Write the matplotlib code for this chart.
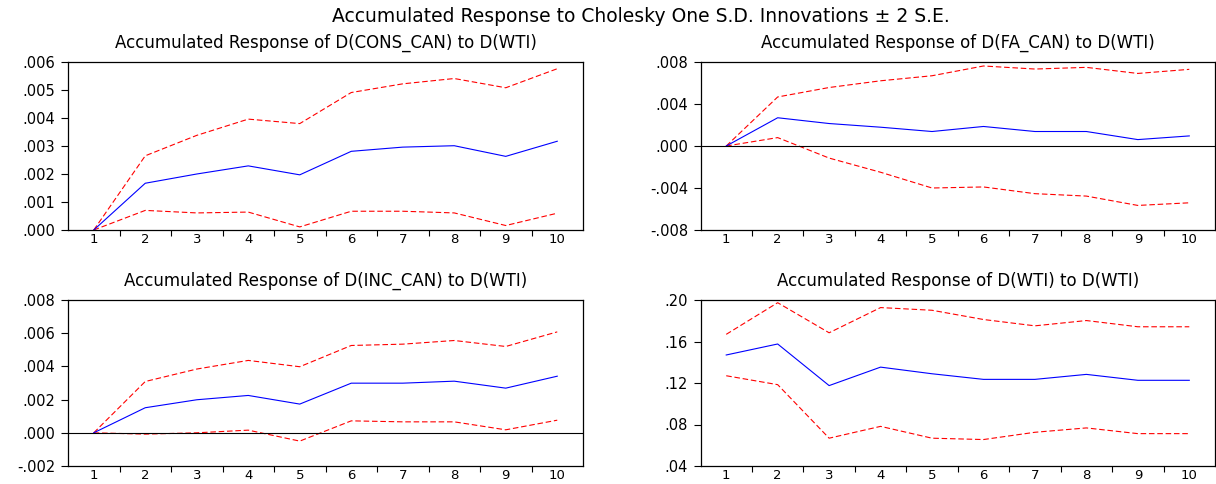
import matplotlib
matplotlib.use("Agg")
import matplotlib.pyplot as plt
from matplotlib.ticker import FixedLocator, FuncFormatter, NullFormatter

periods = [1, 2, 3, 4, 5, 6, 7, 8, 9, 10]

cons_resp = [0, .00167, .00200, .00229, .00197, .00281, .00296, .00301, .00263, .00317]
cons_up = [0, .00265, .00338, .00396, .00380, .00491, .00522, .00541, .00508, .00576]
cons_lo = [0, .00070, .00061, .00064, .00011, .00067, .00067, .00061, .00016, .00060]

fa_resp = [0, .00269, .00214, .00179, .00138, .00186, .00138, .00138, .00061, .00096]
fa_up = [0, .00467, .00557, .00621, .00669, .00762, .00733, .00749, .00691, .00730]
fa_lo = [0, .00080, -.00115, -.00250, -.00400, -.00390, -.00454, -.00477, -.00566, -.00541]

inc_resp = [0, .00151, .00199, .00225, .00173, .00299, .00299, .00311, .00269, .00341]
inc_up = [0, .00309, .00384, .00436, .00398, .00526, .00534, .00556, .00520, .00608]
inc_lo = [0, -.00008, .00000, .00016, -.00050, .00072, .00066, .00066, .00018, .00076]

wti_resp = [.1470, .1576, .1175, .1353, .1289, .1235, .1235, .1283, .1226, .1226]
wti_up = [.1669, .1974, .1684, .1927, .1901, .1812, .1751, .1802, .1742, .1742]
wti_lo = [.1270, .1184, .0668, .0782, .0668, .0655, .0725, .0767, .0712, .0712]

panels = [
    ("Accumulated Response of D(CONS_CAN) to D(WTI)", cons_resp, cons_up, cons_lo,
     [0, .001, .002, .003, .004, .005, .006], 3),
    ("Accumulated Response of D(FA_CAN) to D(WTI)", fa_resp, fa_up, fa_lo,
     [-.008, -.004, 0, .004, .008], 3),
    ("Accumulated Response of D(INC_CAN) to D(WTI)", inc_resp, inc_up, inc_lo,
     [-.002, 0, .002, .004, .006, .008], 3),
    ("Accumulated Response of D(WTI) to D(WTI)", wti_resp, wti_up, wti_lo,
     [.04, .08, .12, .16, .20], 2),
]

W, H = 1216, 484
boxes = [
    (68, 62, 583, 230),
    (700.5, 62, 1215, 230),
    (68, 300, 583, 466),
    (700.5, 300, 1215, 466),
]

fig = plt.figure(figsize=(W / 100, H / 100), dpi=100)
fig.text(641 / W, 1 - 16 / H, "Accumulated Response to Cholesky One S.D. Innovations \u00b1 2 S.E.",
         ha="center", va="center", fontsize=13.5)


def fmt(decimals):
    def f(v, pos):
        s = f"{v:.{decimals}f}"
        if s.startswith("-0."):
            s = "-" + s[2:]
        elif s.startswith("0."):
            s = s[1:]
        return s
    return f


for (title, resp, up, lo, yticks, dec), (x0, y0, x1, y1) in zip(panels, boxes):
    ax = fig.add_axes([x0 / W, 1 - y1 / H, (x1 - x0) / W, (y1 - y0) / H])
    ax.plot(periods, up, color="red", lw=0.8, dashes=(5, 2.5))
    ax.plot(periods, lo, color="red", lw=0.8, dashes=(5, 2.5))
    ax.plot(periods, resp, color="blue", lw=0.8)
    if yticks[0] < 0 < yticks[-1]:
        ax.axhline(0, color="black", lw=0.8)
    ax.set_xlim(0.5, 10.5)
    ax.set_ylim(yticks[0], yticks[-1])
    ax.set_yticks(yticks)
    ax.yaxis.set_major_formatter(FuncFormatter(fmt(dec)))
    ax.set_xticks(periods)
    ax.set_xticklabels([str(p) for p in periods])
    ax.xaxis.set_minor_locator(FixedLocator([p + 0.5 for p in periods[:-1]]))
    ax.xaxis.set_minor_formatter(NullFormatter())
    ax.tick_params(axis="x", which="major", length=0, pad=2.5, labelsize=9.5)
    ax.tick_params(axis="x", which="minor", length=4, width=0.8, direction="out")
    ax.tick_params(axis="y", which="major", length=5, width=0.8, direction="out",
                   pad=4, labelsize=10.5)
    for sp in ax.spines.values():
        sp.set_linewidth(0.9)
    ax.set_title(title, fontsize=12, pad=10)

fig.savefig("out.png", dpi=100)
